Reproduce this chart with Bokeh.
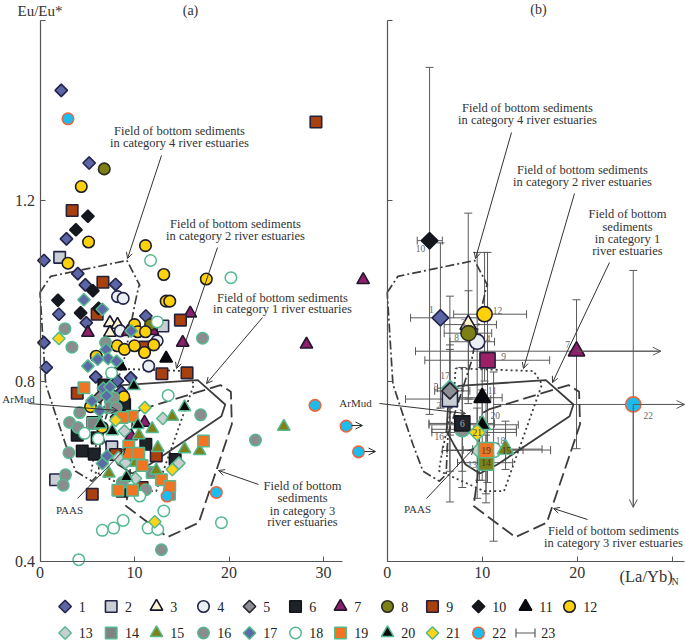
import math
from bokeh.plotting import figure
from bokeh.layouts import column, row
from bokeh.models import Range1d, FixedTicker, Arrow, OpenHead, ColumnDataSource
from bokeh.core.properties import value
from bokeh.embed import file_html
from bokeh.resources import INLINE

# ---------- panel (a) data: (La/Yb)N and Eu/Eu* per series ----------
s01_x = [2.25, 5.2, 2.8, 0.42, 4.0, 4.8, 8.0, 2.0, 4.9, 0.42, 0.67, 11.2, 5.9, 8.2, 9.6, 8.6]
s01_y = [1.444, 1.283, 1.115, 1.067, 1.038, 1.013, 1.014, 0.948, 0.929, 0.885, 0.83, 0.944, 0.809, 0.80, 0.807, 0.776]
s02_x = [2.08, 13.0, 1.65, 7.6]
s02_y = [1.074, 0.922, 0.581, 0.654]
s03_x = [7.4, 8.2, 7.4]
s03_y = [0.929, 0.925, 0.907]
s04_x = [8.2, 8.8, 8.5, 11.5, 12.4]
s04_y = [0.987, 0.983, 0.911, 0.833, 0.889]
s05_x = [6.9, 6.3, 8.1]
s05_y = [0.78, 0.765, 0.72]
s06_x = [4.47, 5.74, 3.94, 6.76, 6.05, 5.6, 14.3, 11.2, 8.95, 8.7]
s06_y = [0.645, 0.638, 0.68, 0.791, 0.674, 0.708, 0.626, 0.66, 0.748, 0.556]
s07_x = [34.2, 28.2, 15.1, 15.9, 5.07, 9.3, 11.9, 11.06, 9.65]
s07_y = [1.024, 0.881, 0.885, 0.95, 0.907, 0.909, 0.911, 0.708, 0.678]
s08_x = [6.8, 11.7]
s08_y = [1.27, 0.925]
s09_x = [29.2, 3.4, 6.66, 6.05, 14.86, 12.9, 15.56, 11.06, 3.94, 12.3, 5.53, 8.0, 10.8]
s09_y = [1.374, 1.178, 1.019, 0.948, 0.935, 0.816, 0.818, 0.875, 0.773, 0.634, 0.549, 0.637, 0.564]
s10_x = [5.07, 3.8, 1.9, 5.6, 4.3, 6.2]
s10_y = [1.165, 1.135, 0.979, 1.0, 0.951, 0.961]
s11_x = [13.35, 8.5]
s11_y = [0.85, 0.833]
s12_x = [4.37, 5.14, 2.96, 11.16, 13.1, 17.6, 13.35, 13.73, 10.0, 10.35, 11.16, 8.17, 8.94, 10.0, 11.06, 12.04, 5.95, 8.87, 5.35, 6.58]
s12_y = [1.231, 1.108, 1.061, 1.1, 1.036, 1.026, 0.977, 0.977, 0.925, 0.909, 0.909, 0.878, 0.87, 0.878, 0.863, 0.88, 0.855, 0.765, 0.743, 0.697]
s13_x = [13.0, 8.94, 14.7, 10.1, 8.3, 9.05]
s13_y = [0.717, 0.689, 0.618, 0.584, 0.63, 0.619]
s14_x = [5.63, 11.87, 13.7, 7.5]
s14_y = [0.706, 0.597, 0.549, 0.741]
s15_x = [25.8, 14.0, 11.87, 12.46, 15.3, 16.9, 10.46, 10.1, 12.3, 7.3]
s15_y = [0.699, 0.721, 0.694, 0.652, 0.649, 0.645, 0.68, 0.619, 0.602, 0.595]
s16_x = [22.8, 17.0, 17.2, 2.64, 3.38, 4.2, 3.13, 4.0, 3.06, 2.7, 2.46, 12.85, 6.94, 7.8, 8.06, 11.2, 8.7]
s16_y = [0.669, 0.725, 0.895, 0.916, 0.875, 0.73, 0.708, 0.697, 0.641, 0.592, 0.569, 0.426, 0.885, 0.763, 0.741, 0.559, 0.575]
s17_x = [4.65, 6.6, 9.65, 7.0, 7.2, 8.1, 6.1, 5.07, 6.7, 7.4, 7.05, 5.5, 6.3, 7.1, 6.6]
s17_y = [0.98, 0.959, 0.911, 0.87, 0.85, 0.844, 0.848, 0.833, 0.784, 0.787, 0.767, 0.756, 0.734, 0.634, 0.617]
s18_x = [11.7, 20.2, 12.4, 7.57, 13.56, 4.7, 6.16, 10.56, 13.1, 8.8, 7.8, 6.6, 11.44, 12.46, 19.2, 4.1]
s18_y = [1.067, 1.029, 0.931, 0.818, 0.768, 0.684, 0.672, 0.545, 0.512, 0.491, 0.474, 0.469, 0.474, 0.471, 0.486, 0.404]
s19_x = [4.65, 9.75, 8.7, 9.4, 9.4, 10.46, 10.8, 12.85, 13.73, 8.24, 9.8, 17.3]
s19_y = [0.785, 0.722, 0.719, 0.656, 0.64, 0.64, 0.613, 0.581, 0.566, 0.558, 0.558, 0.667]
s20_x = [9.93, 15.3, 6.4, 10.35, 7.64, 9.15]
s20_y = [0.789, 0.742, 0.704, 0.703, 0.689, 0.587]
s21_x = [2.0, 11.1, 8.0, 14.0, 12.15]
s21_y = [0.894, 0.741, 0.713, 0.604, 0.488]
s22_x = [2.96, 29.1, 32.4, 33.7, 18.66, 13.45]
s22_y = [1.381, 0.746, 0.7, 0.643, 0.553, 0.545]

series_x = [s01_x, s02_x, s03_x, s04_x, s05_x, s06_x, s07_x, s08_x, s09_x, s10_x, s11_x,
            s12_x, s13_x, s14_x, s15_x, s16_x, s17_x, s18_x, s19_x, s20_x, s21_x, s22_x]
series_y = [s01_y, s02_y, s03_y, s04_y, s05_y, s06_y, s07_y, s08_y, s09_y, s10_y, s11_y,
            s12_y, s13_y, s14_y, s15_y, s16_y, s17_y, s18_y, s19_y, s20_y, s21_y, s22_y]

# ---------- panel (b) data: mean and range per series ----------
b_ids = list(range(1, 23))
b_x = [5.6, 6.6, 8.53, 9.47, 6.6, 7.9, 19.93, 8.56, 10.56, 4.46, 10.0, 10.25, 9.7, 10.4, 12.46, 7.9, 6.6, 11.2, 10.4, 10.0, 9.47, 25.9]
b_y = [0.94, 0.76, 0.925, 0.887, 0.778, 0.706, 0.866, 0.906, 0.846, 1.111, 0.763, 0.948, 0.646, 0.619, 0.649, 0.693, 0.784, 0.647, 0.647, 0.703, 0.686, 0.748]
b_xlo = [2.46, 1.93, 6.0, 6.6, 5.0, 4.4, 2.98, 6.0, 3.96, 3.16, 6.5, 7.0, 5.8, 7.4, 9.0, 4.7, 5.3, 8.0, 6.3, 4.4, 4.7, 11.2]
b_xhi = [10.35, 10.9, 11.5, 11.3, 8.7, 11.3, 28.8, 11.0, 17.1, 5.8, 12.1, 14.67, 12.0, 13.2, 16.3, 13.6, 8.0, 14.3, 17.2, 13.8, 13.6, 31.3]
b_ylo = [0.74, 0.60, 0.75, 0.70, 0.532, 0.564, 0.65, 0.76, 0.575, 0.726, 0.70, 0.80, 0.58, 0.55, 0.604, 0.60, 0.68, 0.445, 0.53, 0.58, 0.54, 0.52]
b_yhi = [1.106, 0.87, 1.172, 1.085, 0.988, 0.83, 0.98, 1.0, 1.085, 1.495, 0.83, 1.085, 0.70, 0.68, 0.711, 0.79, 0.88, 0.82, 0.76, 0.78, 0.74, 1.045]
b_draw_order = [10, 1, 12, 3, 4, 8, 9, 7, 22, 17, 2, 5, 11, 16, 6, 20, 21, 13, 18, 14, 19, 15]
b_arrow_right = [7, 22]
b_arrow_down = [22]

# ---------- fields of bottom sediments ----------
cat1_x = [7.54, 16.7, 19.6, 19.2, 11.6, 9.75, 8.25, 7.0, 6.25, 6.5]
cat1_y = [0.789, 0.802, 0.748, 0.722, 0.615, 0.595, 0.615, 0.66, 0.689, 0.778]
cat2_x = [7.2, 15.4, 16.3, 14.55, 12.3, 10.2, 5.44, 5.8, 7.0]
cat2_y = [0.828, 0.822, 0.793, 0.689, 0.556, 0.556, 0.601, 0.645, 0.763]
cat3_x = [10.7, 19.1, 20.2, 20.3, 16.8, 13.5, 9.1, 9.5, 9.8]
cat3_y = [0.737, 0.791, 0.776, 0.704, 0.486, 0.454, 0.523, 0.586, 0.726]
cat4_x = [0.0, 1.13, 9.2, 10.56, 10.46, 10.1, 8.87, 7.64, 6.4, 6.2, 5.5, 3.77, 2.7, 1.65, 0.6]
cat4_y = [0.996, 1.032, 1.067, 1.012, 1.01, 0.977, 0.844, 0.763, 0.682, 0.593, 0.578, 0.6, 0.66, 0.726, 0.793]

# ---------- texts ----------
x_ticks = [0, 10, 20, 30]
y_ticks = [0.4, 0.8, 1.2, 1.6]
legend_labels = [str(i) for i in range(1, 24)]
field_line1 = "Field of bottom sediments"

# ---------- styles ----------
GREEN = "#55b88e"
DARK = "#23244a"
styles = {
    1: ("diamond", "#5c65a5", DARK), 2: ("square", "#c9ced4", DARK), 3: ("triangle", "#fdf6cf", "#15152e"),
    4: ("circle", "#eceff2", DARK), 5: ("diamond", "#8d8e93", "#24242c"), 6: ("square", "#1e2329", "#14161c"),
    7: ("triangle", "#8e1f6c", "#22182c"), 8: ("circle", "#7c8016", "#2c2c20"), 9: ("square", "#a9410f", "#26203a"),
    10: ("diamond", "#14181e", "#14181e"), 11: ("triangle", "#08080e", "#08080e"), 12: ("circle", "#ffd10a", "#1c1c2a"),
    13: ("diamond", "#c9ced0", GREEN), 14: ("square", "#808284", GREEN), 15: ("triangle", "#7e8118", GREEN),
    16: ("circle", "#8a8c8e", GREEN), 17: ("diamond", "#5c6aa6", GREEN), 18: ("circle", "#ffffff", GREEN),
    19: ("square", "#f17423", GREEN), 20: ("triangle", "#06080a", GREEN), 21: ("diamond", "#ffd316", GREEN),
    22: ("circle", "#1cbcef", "#e8673f"),
}
b_fill_override = {9: "#9c1f68", 14: "#7e8118"}
TEXT = "#333333"
AXIS = "#555555"
FONT = "Liberation Serif"

# ---------- frame geometry (page pixels) ----------
A_W, B_W, TOP_H, LEG_H = 378, 307, 590, 52
PY_04, PY_PER_UNIT = 561.0, 451.25
A_X0, A_SC = 39.5, 9.45
B_X0, B_SC, B_LEFT = 386.7, 9.5, 378

def yd(py):
    return 0.4 + (PY_04 - py) / PY_PER_UNIT
def ax(px):
    return (px - A_X0) / A_SC
def bx(px):
    return (px - B_X0) / B_SC

def scatter(p, xs, ys, sid, scale=1.0, fill_override=None):
    m, fill, line = styles[sid]
    if fill_override:
        fill = fill_override
    kw = dict(fill_color=fill, line_color=line, line_width=1.6 if sid < 13 or sid == 22 else 1.5)
    if m == "diamond":
        p.scatter(xs, ys, marker="square", angle=math.pi / 4, size=8.8 * scale, **kw)
    elif m == "square":
        p.scatter(xs, ys, marker="square", size=11.5 * scale, **kw)
    elif m == "circle":
        p.scatter(xs, ys, marker="circle", size=11.5 * scale, **kw)
    else:
        p.scatter(xs, ys, marker="triangle", size=12.5 * scale, **kw)

def base_fig(width, x0, xsc, left):
    p = figure(width=width, height=TOP_H, output_backend="svg", toolbar_location=None,
               x_range=Range1d((left - x0) / xsc, (left + width - x0) / xsc),
               y_range=Range1d(yd(TOP_H), yd(0)),
               min_border=0, min_border_left=0, min_border_right=0, min_border_top=0, min_border_bottom=0,
               outline_line_color=None, background_fill_color="white", border_fill_color="white")
    p.grid.visible = False
    xa, ya = p.xaxis[0], p.yaxis[0]
    xa.fixed_location = 0.4
    ya.fixed_location = 0
    xa.ticker = FixedTicker(ticks=x_ticks)
    ya.ticker = FixedTicker(ticks=y_ticks)
    for a in (xa, ya):
        a.axis_line_color = AXIS
        a.axis_line_width = 1.2
        a.major_tick_line_color = AXIS
        a.major_tick_in = 5
        a.major_tick_out = 0
        a.minor_tick_in = 0
        a.minor_tick_out = 0
        a.major_label_text_font = FONT
        a.major_label_text_font_size = "16px"
        a.major_label_text_color = TEXT
    xa.major_label_standoff = 5
    ya.major_label_standoff = 5
    ya.bounds = (0.4, 1.6)
    return p

def fields(p):
    def closed(v):
        return list(v) + [v[0]]
    p.line(closed(cat4_x), closed(cat4_y), line_color="#3c3c3c", line_width=1.7, line_dash="9 3 2 3")
    p.line(closed(cat2_x), closed(cat2_y), line_color="#3c3c3c", line_width=1.8, line_dash="2 3")
    p.line(closed(cat3_x), closed(cat3_y), line_color="#3c3c3c", line_width=1.8, line_dash="13 5")
    p.line(closed(cat1_x), closed(cat1_y), line_color="#3c3c3c", line_width=1.8)

def note(p, tx, px, pys, lines, size="12.5px", align="center"):
    for py, t in zip(pys, lines):
        p.text([tx(px)], [yd(py)], text=[t], text_font=value(FONT), text_font_size=value(size),
               text_color=TEXT, text_align=align, text_baseline="middle")

def leader(p, tx, x1, y1, x2, y2, size=6):
    p.add_layout(Arrow(end=OpenHead(size=size, line_color="#333333", line_width=1),
                       x_start=tx(x1), y_start=yd(y1), x_end=tx(x2), y_end=yd(y2),
                       line_color="#333333", line_width=1))

# ---------- panel (a) ----------
pa = base_fig(A_W, A_X0, A_SC, 0)
pa.xaxis[0].bounds = (0, 32)
pa.yaxis[0].major_label_overrides = {1.6: ""}
fields(pa)
for i in range(22):
    scatter(pa, series_x[i], series_y[i], i + 1)
leader(pa, ax, 161, 155, 127, 258)
leader(pa, ax, 217, 247, 176, 368)
leader(pa, ax, 262, 317, 206, 383)
leader(pa, ax, 258, 484, 218, 470)
leader(pa, ax, 28, 403, 117, 410)
leader(pa, ax, 77, 498, 125, 448)
leader(pa, ax, 351, 425, 362, 425, 7)
leader(pa, ax, 364, 451, 375, 451, 7)
note(pa, ax, 179, [130, 142], [field_line1, "in category 4 river estuaries"])
note(pa, ax, 235, [223, 235], [field_line1, "in category 2 river estuaries"])
note(pa, ax, 282, [297, 308], [field_line1, "in category 1 river estuaries"])
note(pa, ax, 302, [485, 497, 510, 521], ["Field of bottom", "sediments", "in category 3", "river estuaries"])
note(pa, ax, 18, [398], ["ArMud"], "11px")
note(pa, ax, 69, [509], ["PAAS"], "11px")
note(pa, ax, 355, [402], ["ArMud"], "11px")
note(pa, ax, 17, [10], ["Eu/Eu*"], "15px", "left")
note(pa, ax, 190, [10], ["(a)"], "14px")

# ---------- panel (b) ----------
pb = base_fig(B_W, B_X0, B_SC, B_LEFT)
pb.xaxis[0].bounds = (0, 31.3)
pb.xaxis[0].major_label_overrides = {30: ""}
pb.yaxis[0].major_label_overrides = {0.4: "", 0.8: "", 1.2: "", 1.6: ""}
ERR = "#5a5a5a"
pb.segment(b_xlo, b_y, b_xhi, b_y, line_color=ERR, line_width=1)
pb.segment(b_x, b_ylo, b_x, b_yhi, line_color=ERR, line_width=1)
cap = dict(line_color=ERR, line_width=1, size=8)
left_caps = [i for i, s in enumerate(b_ids) if s != 22]
right_caps = [i for i, s in enumerate(b_ids) if s not in b_arrow_right]
low_caps = [i for i, s in enumerate(b_ids) if s not in b_arrow_down]
pb.scatter([b_xlo[i] for i in left_caps], [b_y[i] for i in left_caps], marker="dash", angle=math.pi / 2, **cap)
pb.scatter([b_xhi[i] for i in right_caps], [b_y[i] for i in right_caps], marker="dash", angle=math.pi / 2, **cap)
pb.scatter([b_x[i] for i in low_caps], [b_ylo[i] for i in low_caps], marker="dash", **cap)
pb.scatter(b_x, b_yhi, marker="dash", **cap)
for s in b_arrow_right:
    i = s - 1
    pb.add_layout(Arrow(end=OpenHead(size=8, line_color=ERR, line_width=1), x_start=b_x[i], y_start=b_y[i],
                        x_end=b_xhi[i], y_end=b_y[i], line_color=ERR, line_width=1))
for s in b_arrow_down:
    i = s - 1
    pb.add_layout(Arrow(end=OpenHead(size=8, line_color=ERR, line_width=1), x_start=b_x[i], y_start=b_y[i],
                        x_end=b_x[i], y_end=b_ylo[i], line_color=ERR, line_width=1))
fields(pb)
for s in b_draw_order:
    scatter(pb, [b_x[s - 1]], [b_y[s - 1]], s, scale=1.32, fill_override=b_fill_override.get(s))

lab_dx = [-9, -11, -5, 11, -14, 0, -9, -12, 16, -9, 10, 13, -7, 0, 1, -23, -5, 7, 0, 13, 0, 15]
lab_dy = [-8, 6, -2, -3, -4, 0, -7, 4, -4, 8, -7, -4, 14, 0, 1, 7, -13, -10, 0, -9, 0, 11]
lab_col = ["#666666"] * 22
lab_col[5] = "#b0b0b0"
for s in (14, 15, 19, 21):
    lab_col[s - 1] = "#3a3a3a"
pb.text(x="x", y="y", text="t", x_offset="dx", y_offset="dy", text_color="c",
        source=ColumnDataSource(dict(x=b_x, y=b_y, t=[str(s) for s in b_ids], dx=lab_dx, dy=lab_dy, c=lab_col)),
        text_font=value(FONT), text_font_size=value("9.5px"), text_align="center", text_baseline="middle")

leader(pb, bx, 511, 132, 475, 258)
leader(pb, bx, 574, 193, 523, 368)
leader(pb, bx, 609, 262, 552, 382)
leader(pb, bx, 587, 519, 553, 508)
leader(pb, bx, 379, 403, 465, 413)
leader(pb, bx, 426, 498, 473, 448)
note(pb, bx, 527, [107, 119], [field_line1, "in category 4 river estuaries"])
note(pb, bx, 582, [169, 181], [field_line1, "in category 2 river estuaries"])
note(pb, bx, 627, [213, 226, 238, 250], ["Field of bottom", "sediments", "in category 1", "river estuaries"])
note(pb, bx, 613, [530, 542], [field_line1, "in category 3 river estuaries"])
note(pb, bx, 417, [508], ["PAAS"], "11px")
note(pb, bx, 538, [9], ["(b)"], "14px")
note(pb, bx, 619, [576], ["(La/Yb)"], "16.5px", "left")
note(pb, bx, 671, [581], ["N"], "10px", "left")

# ---------- legend ----------
pl = figure(width=A_W + B_W, height=LEG_H, output_backend="svg", toolbar_location=None,
            x_range=Range1d(0, A_W + B_W), y_range=Range1d(642, 642 - LEG_H),
            min_border=0, min_border_left=0, min_border_right=0, min_border_top=0, min_border_bottom=0,
            outline_line_color=None, background_fill_color="white", border_fill_color="white")
pl.axis.visible = False
pl.grid.visible = False
leg_cols = [64.6, 110.7, 156, 203, 249, 295, 340, 387, 432, 478, 525, 569]
leg_rows = [606, 632.5]
for k in range(22):
    cx = leg_cols[k % 12]
    cy = leg_rows[k // 12]
    scatter(pl, [cx], [cy], k + 1)
for k, t in enumerate(legend_labels):
    cx = leg_cols[k % 12]
    cy = leg_rows[k // 12]
    off = 15.7 if k == 22 else 13.7
    pl.text([cx + off], [cy], text=[t], text_font=value(FONT), text_font_size=value("14px"),
            text_color="#222222", text_align="left", text_baseline="middle")
e_x, e_y, e_half = leg_cols[10], leg_rows[1], 9.5
pl.segment([e_x - e_half], [e_y], [e_x + e_half], [e_y], line_color=ERR, line_width=1.2)
pl.segment([e_x - e_half, e_x + e_half], [e_y - 4.5, e_y - 4.5], [e_x - e_half, e_x + e_half], [e_y + 4.5, e_y + 4.5],
           line_color=ERR, line_width=1.2)

page = column(row(pa, pb, spacing=0), pl, spacing=0, margin=(0, 0, 0, 0))
open("out.html", "w").write(file_html(page, INLINE))
